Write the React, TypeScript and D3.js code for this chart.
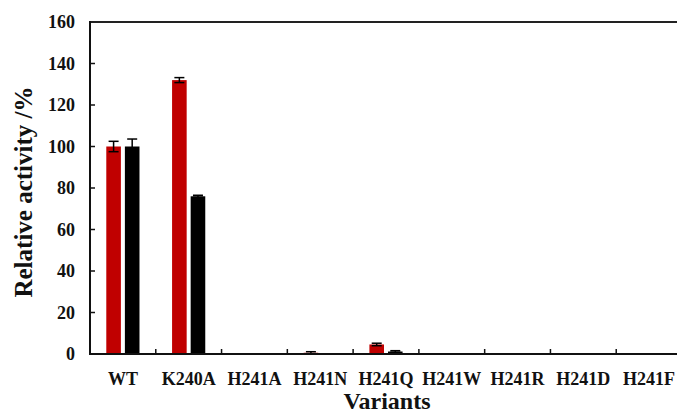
import React from "react";
import * as d3 from "d3";

const categories = ["WT", "K240A", "H241A", "H241N", "H241Q", "H241W", "H241R", "H241D", "H241F"];
const seriesNames = ["redSeries", "blackSeries"];
const redValues = [100, 132, 0, 0.6, 4.6, 0, 0, 0, 0];
const redErrors = [2.5, 1.2, 0, 0.5, 0.6, 0, 0, 0, 0];
const blackValues = [100, 76, 0, 0, 1.2, 0, 0, 0, 0];
const blackErrors = [3.6, 0.5, 0, 0, 0.4, 0, 0, 0, 0];
const yTicks = [0, 20, 40, 60, 80, 100, 120, 140, 160];
const colors = ["#C00000", "#000000"];

const W = 677;
const H = 416;
const left = 90;
const right = 682;
const top = 22;
const bottom = 354;
const FONT = "'Liberation Serif', 'Times New Roman', serif";

export default function App() {
  const x0 = d3
    .scaleBand<string>()
    .domain(categories)
    .range([left, right])
    .paddingInner(0.4954)
    .paddingOuter(0.2477);
  const x1 = d3
    .scaleBand<string>()
    .domain(seriesNames)
    .range([0, x0.bandwidth()])
    .paddingInner(0.215);
  const y = d3.scaleLinear().domain([0, 160]).range([bottom, top]);
  const step = x0.step();

  const series = [
    { name: seriesNames[0], values: redValues, errors: redErrors, color: colors[0] },
    { name: seriesNames[1], values: blackValues, errors: blackErrors, color: colors[1] },
  ];

  return (
    <svg
      width={W}
      height={H}
      style={{ position: "absolute", left: 0, top: 0, background: "#fff" }}
      fontFamily={FONT}
    >
      <rect x={0} y={0} width={W} height={H} fill="#fff" />
      {series.map((s) =>
        categories.map((c, i) => {
          const v = s.values[i];
          if (v <= 0) return null;
          const bx = (x0(c) as number) + (x1(s.name) as number);
          return (
            <rect
              key={s.name + c}
              x={bx}
              y={y(v)}
              width={x1.bandwidth()}
              height={y(0) - y(v)}
              fill={s.color}
            />
          );
        })
      )}
      {series.map((s) =>
        categories.map((c, i) => {
          const v = s.values[i];
          const e = s.errors[i];
          if (e <= 0) return null;
          const cx = (x0(c) as number) + (x1(s.name) as number) + x1.bandwidth() / 2;
          const hi = y(v + e);
          const lo = y(Math.max(0, v - e));
          return (
            <g key={"e" + s.name + c} stroke="#000" strokeWidth={1.5}>
              <line x1={cx} x2={cx} y1={hi} y2={lo} />
              <line x1={cx - 5} x2={cx + 5} y1={hi} y2={hi} />
              <line x1={cx - 5} x2={cx + 5} y1={lo} y2={lo} />
            </g>
          );
        })
      )}
      {/* frame */}
      <line x1={left} x2={right} y1={top} y2={top} stroke="#222" strokeWidth={2} />
      <line x1={left} x2={left} y1={top - 1} y2={bottom + 1} stroke="#111" strokeWidth={2} />
      <line x1={left} x2={right} y1={bottom} y2={bottom} stroke="#111" strokeWidth={2} />
      {/* y ticks */}
      {yTicks.map((t) => (
        <g key={"yt" + t}>
          {t > 0 && t < 160 && (
            <line x1={left} x2={left + 5} y1={y(t)} y2={y(t)} stroke="#111" strokeWidth={1.5} />
          )}
          <text
            x={75}
            y={y(t)}
            dy="0.35em"
            textAnchor="end"
            fontSize={18}
            fontWeight="bold"
            fill="#111"
          >
            {t}
          </text>
        </g>
      ))}
      {/* x ticks at band boundaries */}
      {categories.slice(1).map((c) => (
        <line
          key={"xt" + c}
          x1={(x0(c) as number) - (step - x0.bandwidth()) / 2}
          x2={(x0(c) as number) - (step - x0.bandwidth()) / 2}
          y1={bottom}
          y2={bottom - 5}
          stroke="#111"
          strokeWidth={1.5}
        />
      ))}
      {categories.map((c) => (
        <text
          key={"xl" + c}
          x={(x0(c) as number) + x0.bandwidth() / 2}
          y={385}
          textAnchor="middle"
          fontSize={18}
          fontWeight="bold"
          fill="#111"
        >
          {c}
        </text>
      ))}
      <text x={387} y={409} textAnchor="middle" fontSize={24} fontWeight="bold" fill="#111">
        Variants
      </text>
      <text
        transform="translate(32,192) rotate(-90)"
        textAnchor="middle"
        fontSize={25}
        fontWeight="bold"
        fill="#111"
      >
        Relative activity /%
      </text>
    </svg>
  );
}
